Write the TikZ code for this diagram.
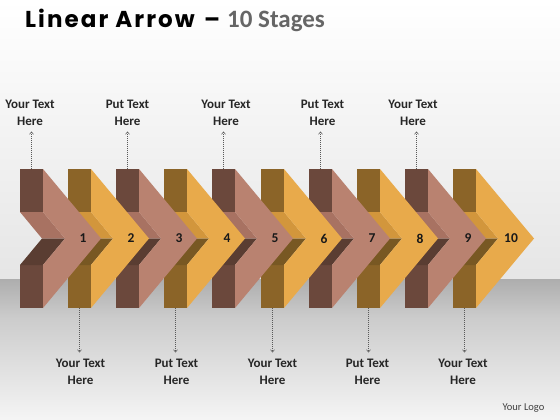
\documentclass[tikz,border=0pt]{standalone}
\usepackage{fontspec}
\setmainfont{Carlito}
\newfontfamily\titlefont{Poppins}[LetterSpace=9]
\usepackage{tikz}
\usetikzlibrary{arrows.meta}
\definecolor{pinkface}{HTML}{B98270}
\definecolor{pinkbar}{HTML}{6B483C}
\definecolor{pinktop}{HTML}{A87262}
\definecolor{pinklow}{HTML}{5A3D32}
\definecolor{goldface}{HTML}{E8AA4B}
\definecolor{goldbar}{HTML}{8B6428}
\definecolor{goldtop}{HTML}{D2963C}
\definecolor{goldlow}{HTML}{785823}
\newcommand{\barw}{23}
\newcommand{\tipw}{58}
\newcommand{\notchw}{22}
% one chevron: bar left x, face, bar, upper notch, lower notch colours
\newcommand{\chevron}[5]{
\fill[#3] (#1,169) rectangle (#1+\barw,212);
\fill[#3] (#1,265) rectangle (#1+\barw,308);
\fill[#4] (#1,212) -- (#1+\barw,212) -- (#1+\barw+\notchw,238.5) -- (#1+\notchw,238.5) -- cycle;
\fill[#5] (#1+\notchw,238.5) -- (#1+\barw+\notchw,238.5) -- (#1+\barw,265) -- (#1,265) -- cycle;
\fill[#2] (#1+\barw,169) -- (#1+\barw+\tipw,238.5) -- (#1+\barw,308) -- (#1+\barw,265) -- (#1+\barw+\notchw,238.5) -- (#1+\barw,212) -- cycle;
}
\newcommand{\pinkchevron}[1]{\chevron{#1}{pinkface}{pinkbar}{pinktop}{pinklow}}
\newcommand{\goldchevron}[1]{\chevron{#1}{goldface}{goldbar}{goldtop}{goldlow}}

\begin{document}
\begin{tikzpicture}[x=1pt,y=-1pt,
  num/.style={font=\fontsize{13.5}{15}\selectfont\bfseries, text=black!90},
  txt/.style={font=\fontsize{13}{17}\selectfont\bfseries, text=black!85, align=center, inner sep=0pt},
  link/.style={draw=black!65, line width=0.5pt, dash pattern=on 1pt off 1pt, -{Straight Barb[length=2.5pt,width=4pt]}, shorten >=6pt}]
\useasboundingbox (0,0) rectangle (560,420);
%wall and floor
\shade[top color=white, bottom color=black!10] (0,0) rectangle (560,279);
\shade[top color=black!32, bottom color=black!20] (0,279) rectangle (560,318);
\shade[top color=black!20, bottom color=black!4] (0,318) rectangle (560,420);
%title
\node[anchor=base west, inner sep=0pt] (title) at (25,28) {\titlefont\fontsize{23}{26}\selectfont\bfseries Linear Arrow};
\node[anchor=base, inner sep=0pt] (dash) at (212,28) {\titlefont\fontsize{23}{26}\selectfont\bfseries –};
\node[anchor=base west, inner sep=0pt, text=black!60] (stages) at (227,28) {\fontsize{25}{28}\selectfont\bfseries 10 Stages};
%chevrons, right to left
\goldchevron{453}
\pinkchevron{405}
\goldchevron{357}
\pinkchevron{309}
\goldchevron{261}
\pinkchevron{212}
\goldchevron{164}
\pinkchevron{116}
\goldchevron{68}
\pinkchevron{20}
%numbers
\node[num] (n1) at (83,238.5) {1};
\node[num] (n2) at (131,238.5) {2};
\node[num] (n3) at (179,238.5) {3};
\node[num] (n4) at (227,238.5) {4};
\node[num] (n5) at (275,238.5) {5};
\node[num] (n6) at (324,238.5) {6};
\node[num] (n7) at (372,238.5) {7};
\node[num] (n8) at (420,238.5) {8};
\node[num] (n9) at (468,238.5) {9};
\node[num] (n10) at (511,238.5) {10};
%top texts
\coordinate (t1) at (31.5,169);
\coordinate (t3) at (127.5,169);
\coordinate (t5) at (223.5,169);
\coordinate (t7) at (320.5,169);
\coordinate (t9) at (416.5,169);
\node[txt] (u1) at (30,112.5) {Your Text\\Here};
\node[txt] (u3) at (127.5,112.5) {Put Text\\Here};
\node[txt] (u5) at (226,112.5) {Your Text\\Here};
\node[txt] (u7) at (322.5,112.5) {Put Text\\Here};
\node[txt] (u9) at (413,112.5) {Your Text\\Here};
\draw[link] (t1) -- (u1.south -| t1);
\draw[link] (t3) -- (u3.south -| t3);
\draw[link] (t5) -- (u5.south -| t5);
\draw[link] (t7) -- (u7.south -| t7);
\draw[link] (t9) -- (u9.south -| t9);
%bottom texts
\coordinate (b2) at (79.5,308);
\coordinate (b4) at (175.5,308);
\coordinate (b6) at (272.5,308);
\coordinate (b8) at (368.5,308);
\coordinate (b10) at (464.5,308);
\node[txt] (d2) at (80.5,371.5) {Your Text\\Here};
\node[txt] (d4) at (176.5,371.5) {Put Text\\Here};
\node[txt] (d6) at (272.5,371.5) {Your Text\\Here};
\node[txt] (d8) at (367.5,371.5) {Put Text\\Here};
\node[txt] (d10) at (463,371.5) {Your Text\\Here};
\draw[link] (b2) -- (d2.north -| b2);
\draw[link] (b4) -- (d4.north -| b4);
\draw[link] (b6) -- (d6.north -| b6);
\draw[link] (b8) -- (d8.north -| b8);
\draw[link] (b10) -- (d10.north -| b10);
%logo
\node[font=\fontsize{10.5}{12}\selectfont, text=black!75] (logo) at (523.5,408) {Your Logo};
\end{tikzpicture}
\end{document}
